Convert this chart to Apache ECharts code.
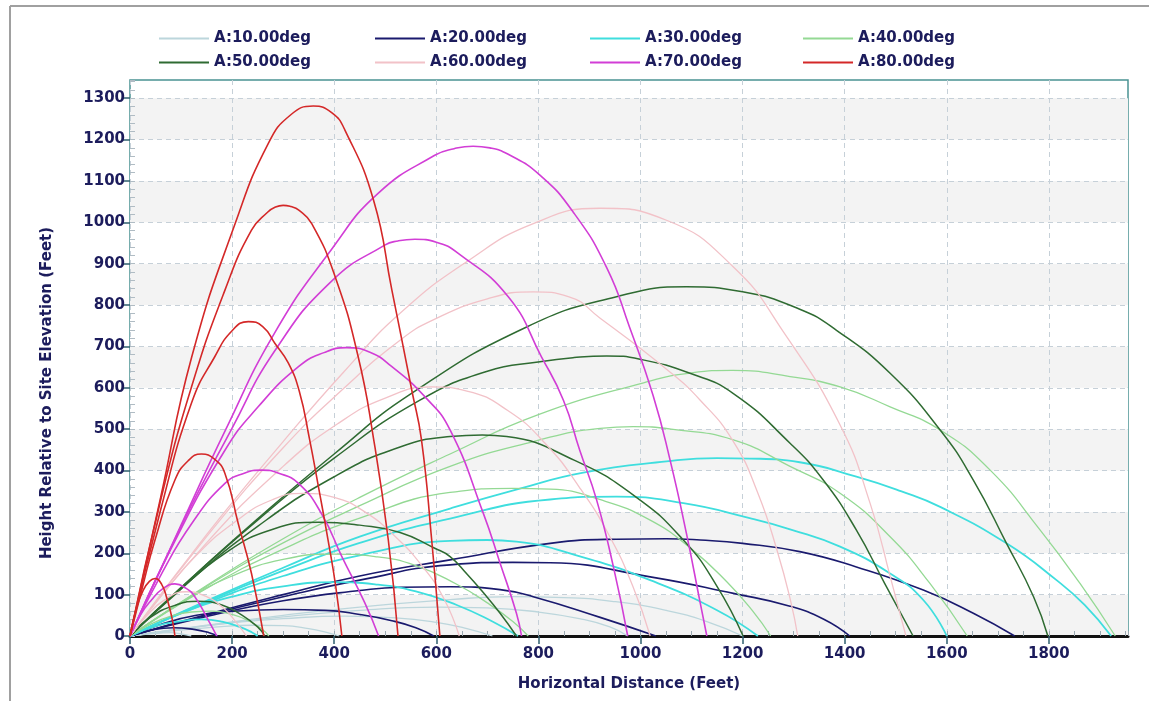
<!DOCTYPE html>
<html><head><meta charset="utf-8">
<script src="https://cdn.jsdelivr.net/npm/echarts@6/dist/echarts.min.js"></script>
<style>html,body{margin:0;padding:0;background:#fff}#c{width:1149px;height:701px}</style>
</head><body><div id="c"></div><script>
// ---- data ----
const angleNames = ['A:10.00deg','A:20.00deg','A:30.00deg','A:40.00deg','A:50.00deg','A:60.00deg','A:70.00deg','A:80.00deg'];
const xTicks = [0,200,400,600,800,1000,1200,1400,1600,1800];
const yTicks = [0,100,200,300,400,500,600,700,800,900,1000,1100,1200,1300];

const traj10 = [
 [[0,0],[30,4],[60,7],[80,8],[100,5],[120,0]],
 [[0,0],[80,12],[160,21],[240,26],[300,25],[350,18],[385,9],[410,0]],
 [[0,0],[100,17],[200,32],[300,42],[420,48],[520,44],[600,33],[660,18],[710,0]],
 [[0,0],[150,25],[300,46],[450,62],[600,70],[700,68],[800,58],[880,42],[940,22],[975,0]],
 [[0,0],[150,26],[300,50],[450,70],[627,88],[750,95],[850,93],[950,83],[1050,62],[1130,35],[1200,0]]
];
const traj20 = [
 [[0,0],[40,14],[85,20],[125,16],[155,8],[172,0]],
 [[0,0],[60,28],[130,50],[206,60],[300,64],[382,62],[450,52],[513,37],[560,20],[595,0]],
 [[0,0],[150,47],[300,85],[450,110],[529,118],[627,119],[725,112],[790,95],[921,45],[1030,0]],
 [[0,0],[150,50],[300,95],[450,135],[627,172],[750,178],[823,177],[1019,143],[1182,103],[1293,72],[1360,40],[1410,0]],
 [[0,0],[150,52],[300,100],[450,145],[627,184],[823,224],[953,234],[1050,235],[1117,232],[1200,224],[1312,204],[1423,167],[1554,111],[1652,55],[1733,0]]
];
const traj30 = [
 [[0,0],[50,24],[100,36],[140,40],[180,35],[215,22],[240,8],[250,0]],
 [[0,0],[100,55],[200,95],[300,120],[400,130],[480,125],[560,108],[640,75],[710,35],[760,0]],
 [[0,0],[150,80],[300,145],[450,195],[627,230],[700,232],[757,228],[888,190],[1019,135],[1149,63],[1230,0]],
 [[0,0],[150,83],[300,158],[450,225],[627,284],[823,330],[953,337],[1084,321],[1214,285],[1293,258],[1391,216],[1489,151],[1554,87],[1600,0]],
 [[0,0],[150,85],[300,165],[450,240],[627,308],[760,355],[888,395],[1051,422],[1150,430],[1214,429],[1312,420],[1423,385],[1510,350],[1587,312],[1717,224],[1815,135],[1870,75],[1922,0]]
];
const traj40 = [
 [[0,0],[40,28],[80,48],[120,58],[160,60],[200,52],[235,35],[260,15],[272,0]],
 [[0,0],[100,80],[200,145],[300,185],[400,198],[480,192],[560,170],[640,125],[700,80],[750,35],[780,0]],
 [[0,0],[150,115],[300,210],[450,285],[627,347],[750,357],[823,355],[920,330],[1019,280],[1100,210],[1170,130],[1220,60],[1255,0]],
 [[0,0],[150,120],[300,225],[450,315],[627,410],[790,470],[921,502],[986,506],[1060,500],[1182,474],[1293,410],[1391,345],[1489,240],[1567,127],[1640,0]],
 [[0,0],[150,122],[300,235],[450,335],[627,440],[800,535],[1006,612],[1100,636],[1180,642],[1293,627],[1391,602],[1489,554],[1587,498],[1685,401],[1783,256],[1861,127],[1930,0]]
];
const traj50 = [
 [[0,0],[40,45],[90,75],[134,84],[180,75],[220,50],[250,22],[264,0]],
 [[0,0],[88,100],[186,200],[280,258],[370,275],[450,268],[529,250],[597,212],[627,192],[660,150],[692,105],[725,55],[757,0]],
 [[0,0],[100,115],[250,265],[400,385],[529,457],[627,482],[690,486],[738,482],[870,425],[990,337],[1084,232],[1149,122],[1201,0]],
 [[0,0],[100,117],[250,280],[400,430],[568,570],[700,640],[803,663],[870,673],[934,677],[999,669],[1097,635],[1182,586],[1293,466],[1358,377],[1423,256],[1478,128],[1534,0]],
 [[0,0],[100,117],[250,283],[400,440],[550,585],[777,747],[953,820],[1090,844],[1200,832],[1312,790],[1384,739],[1489,635],[1587,498],[1652,377],[1717,224],[1770,95],[1798,0]]
];
const traj60 = [
 [[0,0],[30,45],[65,85],[110,107],[150,95],[185,65],[210,30],[228,0]],
 [[0,0],[60,95],[130,195],[210,280],[280,330],[340,345],[400,335],[460,300],[520,240],[575,165],[615,90],[645,0]],
 [[0,0],[150,225],[300,410],[408,514],[500,575],[590,602],[660,592],[740,545],[813,466],[880,360],[940,240],[985,120],[1019,0]],
 [[0,0],[150,240],[300,455],[420,600],[529,715],[594,764],[700,815],[790,832],[860,820],[921,768],[1051,645],[1117,570],[1182,470],[1230,345],[1268,205],[1295,80],[1308,0]],
 [[0,0],[150,245],[300,470],[420,640],[529,780],[660,905],[790,997],[921,1034],[1051,1005],[1182,892],[1280,735],[1391,510],[1450,320],[1490,140],[1520,0]]
];
const traj70 = [
 [[0,0],[20,50],[42,87],[65,115],[88,126],[110,115],[127,95],[153,39],[170,0]],
 [[0,0],[62,151],[121,272],[186,369],[225,394],[258,401],[290,394],[330,369],[375,296],[415,192],[460,80],[487,0]],
 [[0,0],[80,210],[186,449],[251,554],[330,651],[380,685],[424,697],[470,686],[513,651],[578,578],[627,498],[692,297],[725,176],[757,55],[767,0]],
 [[0,0],[100,265],[199,500],[284,690],[395,858],[499,945],[525,955],[558,959],[600,952],[643,925],[741,820],[806,675],[849,570],[881,449],[914,329],[947,167],[975,0]],
 [[0,0],[100,268],[186,495],[284,734],[395,935],[486,1070],[597,1162],[635,1178],[672,1184],[705,1180],[740,1165],[803,1114],[868,1025],[934,890],[979,745],[1025,580],[1058,425],[1090,248],[1117,80],[1130,0]]
];
const traj80 = [
 [[0,0],[12,65],[26,111],[38,132],[49,139],[62,125],[72,92],[82,45],[88,0]],
 [[0,0],[23,111],[49,232],[88,377],[115,425],[140,440],[165,428],[186,393],[212,272],[238,151],[262,0]],
 [[0,0],[60,305],[121,565],[166,675],[200,738],[232,760],[260,748],[284,707],[310,660],[332,590],[351,480],[370,355],[388,232],[403,120],[415,0]],
 [[0,0],[60,328],[120,600],[186,836],[238,981],[270,1025],[285,1037],[300,1041],[315,1038],[330,1030],[356,997],[402,868],[447,675],[477,478],[506,232],[525,0]],
 [[0,0],[60,335],[121,675],[206,997],[271,1191],[315,1260],[359,1281],[395,1265],[421,1223],[477,1054],[513,836],[552,594],[571,474],[591,232],[607,0]]
];
const trajByAngle = [traj10, traj20, traj30, traj40, traj50, traj60, traj70, traj80];

// ---- styles ----
const lineColors = ['#bcd6dc','#1a1a6e','#3fdede','#94d994','#2f6b32','#f2c2c8','#d23ed6','#d42828'];
const lineWidths = [1.3,1.6,1.8,1.3,1.5,1.3,1.6,1.6];
const navy = '#1c1c5c';
const fontFam = '"DejaVu Sans", Verdana, sans-serif';
const legLeft = [159, 375, 590, 803];
const legTop = [31, 55];

const series = [];
trajByAngle.forEach((curves, i) => {
  curves.forEach(c => {
    series.push({
      type: 'line', name: angleNames[i], data: c,
      xAxisIndex: 0, yAxisIndex: 0,
      smooth: 0.5, symbol: 'none', showSymbol: false, clip: true,
      lineStyle: {color: lineColors[i], width: lineWidths[i]},
      itemStyle: {color: lineColors[i]},
      emphasis: {disabled: true}, z: 2 + i
    });
  });
});

const legends = angleNames.map((n, i) => ({
  data: [n], left: legLeft[i % 4], top: legTop[Math.floor(i / 4)],
  icon: 'rect', itemWidth: 50, itemHeight: 2, padding: 0,
  textStyle: {color: navy, fontWeight: 'bold', fontSize: 15, fontFamily: fontFam}
}));

const plainNum = v => String(v);

const chart = echarts.init(document.getElementById('c'), null, {renderer: 'canvas'});
chart.setOption({
  animation: false,
  backgroundColor: '#ffffff',
  legend: legends,
  grid: {left: 130, right: 21, top: 80, bottom: 65, show: true, borderColor: '#4a9292', borderWidth: 1.5, backgroundColor: 'transparent'},
  xAxis: [{
    type: 'value', min: 0, max: 1955, interval: 200,
    name: 'Horizontal Distance (Feet)', nameLocation: 'middle', nameGap: 41,
    nameTextStyle: {color: navy, fontWeight: 'bold', fontSize: 15, fontFamily: fontFam},
    axisLine: {show: true, onZero: false, lineStyle: {color: '#111', width: 3}},
    axisTick: {show: true, inside: false, length: 8, customValues: xTicks, lineStyle: {color: '#2f5f6f', width: 1.5}},
    axisLabel: {customValues: xTicks, formatter: plainNum, color: navy, fontWeight: 'bold', fontSize: 15, fontFamily: fontFam, margin: 11},
    splitLine: {show: true, lineStyle: {color: '#c6d0d8', type: [5, 4], width: 1}}
  }, {
    type: 'value', min: 0, max: 1955, interval: 50, position: 'bottom',
    axisLine: {show: false}, axisLabel: {show: false}, splitLine: {show: false},
    axisTick: {show: true, inside: true, length: 5, lineStyle: {color: '#9aa8b0', width: 1}}
  }],
  yAxis: [{
    type: 'value', min: 0, max: 1344, interval: 100,
    axisLine: {show: false},
    axisTick: {show: true, inside: false, length: 8, customValues: yTicks, lineStyle: {color: '#2f5f6f', width: 1.5}},
    axisLabel: {customValues: yTicks, formatter: plainNum, color: navy, fontWeight: 'bold', fontSize: 15, fontFamily: fontFam, margin: 5},
    splitLine: {show: true, lineStyle: {color: '#c6d0d8', type: [5, 4], width: 1}},
    splitArea: {show: true, areaStyle: {color: ['#f3f3f3', '#ffffff']}}
  }, {
    type: 'value', min: 0, max: 1344, interval: 20, position: 'left',
    axisLine: {show: false}, axisLabel: {show: false}, splitLine: {show: false},
    axisTick: {show: true, inside: true, length: 5, lineStyle: {color: '#b0bcc4', width: 1}}
  }],
  graphic: [
    {type: 'text', x: 47, y: 393, rotation: Math.PI / 2, z: 10,
     style: {text: 'Height Relative to Site Elevation (Feet)', fill: navy, font: 'bold 15px "DejaVu Sans", Verdana, sans-serif', align: 'center', verticalAlign: 'middle'}},
    {type: 'line', z: 10, shape: {x1: 10, y1: 6, x2: 10, y2: 701}, style: {stroke: '#a0a0a0', lineWidth: 2}},
    {type: 'line', z: 10, shape: {x1: 10, y1: 6, x2: 1149, y2: 6}, style: {stroke: '#a0a0a0', lineWidth: 2}}
  ],
  series: series
});
</script></body></html>
